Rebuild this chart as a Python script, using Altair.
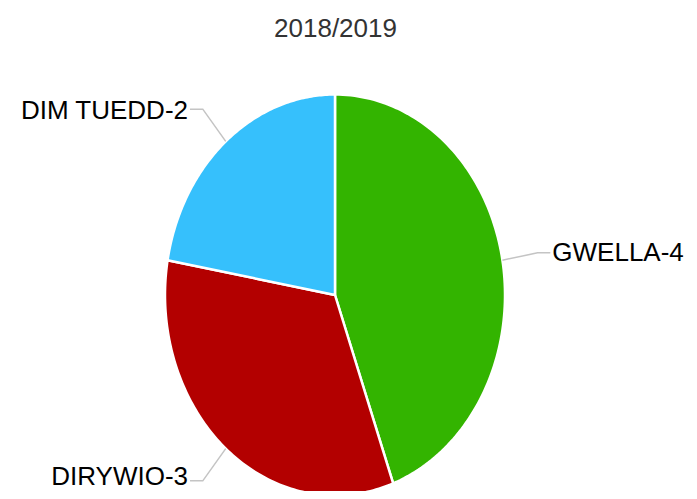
import altair as alt
import pandas as pd

categories = ["GWELLA", "DIRYWIO", "DIM TUEDD"]
values = [4, 3, 2]
colors = ["#33b400", "#b30000", "#36c0fc"]
title_text = "2018/2019"

df = pd.DataFrame({"cat": categories, "value": values, "ord": list(range(len(categories)))})

xs = alt.Scale(domain=[-1, 1], range=[157, 497])
ys = alt.Scale(domain=[-1, 1], range=[442.5, 41.5])

base = alt.Chart(df).transform_joinaggregate(
    total="sum(value)"
).transform_window(
    cum="sum(value)", sort=[alt.SortField("ord")], frame=[None, 0]
).transform_calculate(
    start="(datum.cum - datum.value) / datum.total * 2 * PI",
    end="datum.cum / datum.total * 2 * PI",
).transform_calculate(
    mid="(datum.start + datum.end) / 2",
    label="datum.cat + '-' + datum.value",
    side="sin((datum.start + datum.end) / 2) > 0 ? 1 : -1",
)

X = alt.X("px:Q", scale=xs, axis=None)
Y = alt.Y("py:Q", scale=ys, axis=None)

N = 120
slices = base.transform_calculate(
    idx=f"sequence(-1, {N + 2})"
).transform_flatten(["idx"]).transform_calculate(
    t=f"datum.start + (datum.end - datum.start) * clamp(datum.idx, 0, {N}) / {N}"
).transform_calculate(
    px=f"(datum.idx < 0 || datum.idx > {N}) ? 0 : sin(datum.t)",
    py=f"(datum.idx < 0 || datum.idx > {N}) ? 0 : cos(datum.t)",
).mark_line(stroke="white", strokeWidth=2.5, strokeJoin="round").encode(
    x=X,
    y=Y,
    fill=alt.Fill("cat:N", scale=alt.Scale(domain=categories, range=colors), legend=None),
    detail="cat:N",
    order=alt.Order("idx:Q"),
)

K = 1.21
H = 0.075
leaders = base.transform_calculate(
    idx="sequence(0, 3)"
).transform_flatten(["idx"]).transform_calculate(
    px=f"datum.idx == 0 ? sin(datum.mid) : (datum.idx == 1 ? {K} * sin(datum.mid) : {K} * sin(datum.mid) + {H} * datum.side)",
    py=f"datum.idx == 0 ? cos(datum.mid) : {K} * cos(datum.mid)",
).mark_line(stroke="#c4c4c4", strokeWidth=1.5).encode(
    x=X, y=Y, detail="cat:N", order=alt.Order("idx:Q")
)

lab = base.transform_calculate(
    px=f"{K} * sin(datum.mid) + {H} * datum.side",
    py=f"{K} * cos(datum.mid)",
)
text_style = dict(baseline="middle", font="Liberation Sans", fontSize=26, color="black")
right_labels = lab.transform_filter("datum.side > 0").mark_text(
    align="left", dx=2, **text_style
).encode(x=X, y=Y, text="label:N")
upper_left_labels = lab.transform_filter("datum.side < 0 && datum.py > 0").mark_text(
    align="right", dx=-2, dy=2, **text_style
).encode(x=X, y=Y, text="label:N")
lower_left_labels = lab.transform_filter("datum.side < 0 && datum.py <= 0").mark_text(
    align="right", dx=-2, dy=-4, **text_style
).encode(x=X, y=Y, text="label:N")

chart = alt.layer(slices, leaders, right_labels, upper_left_labels, lower_left_labels).properties(
    width=681,
    height=438,
    padding={"left": 0, "top": 45, "right": 0, "bottom": 0},
    autosize="none",
    title=alt.TitleParams(
        title_text,
        font="Liberation Sans",
        fontSize=26,
        fontWeight="normal",
        color="#333333",
        anchor="middle",
        baseline="alphabetic",
        offset=18,
        dx=-13,
        dy=28,
    ),
).configure_view(stroke=None)

chart.save("out.html", embed_options={"renderer": "svg", "actions": False})
